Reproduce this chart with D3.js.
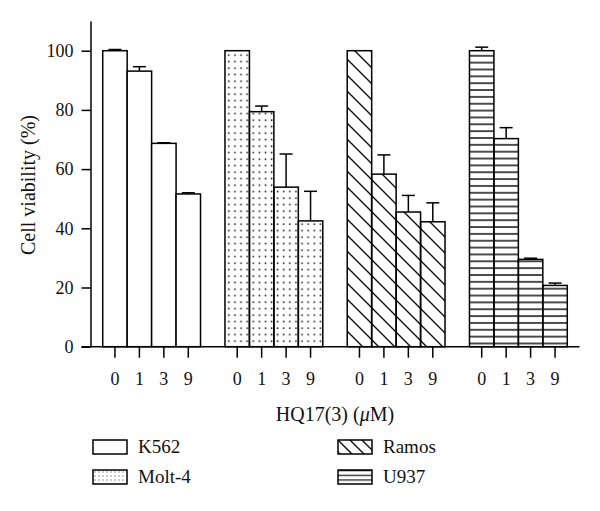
<!DOCTYPE html>
<html>
<head>
<meta charset="utf-8">
<script src="https://cdn.jsdelivr.net/npm/d3@7"></script>
<style>
  html, body { margin: 0; padding: 0; background: #fff; }
  svg { display: block; font-family: "Liberation Serif", "Times New Roman", serif; }
</style>
</head>
<body>
<svg id="chart" width="600" height="511"></svg>
<script>
// ---- data ----
const cellLines = ["K562", "Molt-4", "Ramos", "U937"];
const doses = ["0", "1", "3", "9"];
const k562Mean  = [100, 93.1, 68.7, 51.6];
const k562Err   = [0.4, 1.5, 0.2, 0.4];
const molt4Mean = [100, 79.4, 53.9, 42.5];
const molt4Err  = [0, 1.9, 11.2, 10.0];
const ramosMean = [100, 58.3, 45.5, 42.2];
const ramosErr  = [0, 6.5, 5.6, 6.4];
const u937Mean  = [100, 70.3, 29.5, 20.7];
const u937Err   = [1.2, 3.7, 0.4, 0.8];
const yTicks = [0, 20, 40, 60, 80, 100];
const xTitleParts = ["HQ17(3) (", "\u03bc", "M)"];
const yTitle = "Cell viability (%)";

const means = [k562Mean, molt4Mean, ramosMean, u937Mean];
const errs = [k562Err, molt4Err, ramosErr, u937Err];
const fills = ["#fff", "url(#dots)", "url(#diag)", "url(#hlines)"];
const legendFills = ["#fff", "url(#dotsL)", "url(#diagL)", "url(#hlinesL)"];

const rows = [];
cellLines.forEach((c, gi) => doses.forEach((d, di) => rows.push({cell: c, dose: d, gi, mean: means[gi][di], err: errs[gi][di]})));

const svg = d3.select("#chart");
const defs = svg.append("defs");

// patterns
const pDots = defs.append("pattern").attr("id", "dots").attr("patternUnits", "userSpaceOnUse").attr("width", 6.1).attr("height", 6.5);
pDots.append("rect").attr("x", 2.4).attr("y", 2.4).attr("width", 1.5).attr("height", 1.5).attr("fill", "#000");
const pDiag = defs.append("pattern").attr("id", "diag").attr("patternUnits", "userSpaceOnUse").attr("width", 16).attr("height", 16);
pDiag.append("path").attr("d", "M-4,-4L20,20M-4,12L4,20M12,-4L20,4").attr("stroke", "#111").attr("stroke-width", 1.4);
const pH = defs.append("pattern").attr("id", "hlines").attr("patternUnits", "userSpaceOnUse").attr("width", 10).attr("height", 6.85);
pH.append("line").attr("x1", 0).attr("x2", 10).attr("y1", 1).attr("y2", 1).attr("stroke", "#111").attr("stroke-width", 1.5);

const pDotsL = defs.append("pattern").attr("id", "dotsL").attr("patternUnits", "userSpaceOnUse").attr("width", 4).attr("height", 4);
pDotsL.append("rect").attr("x", 1.5).attr("y", 1.5).attr("width", 1).attr("height", 1).attr("fill", "#333");
const pDiagL = defs.append("pattern").attr("id", "diagL").attr("patternUnits", "userSpaceOnUse").attr("width", 12).attr("height", 12);
pDiagL.append("path").attr("d", "M-3,-3L15,15M-3,9L3,15M9,-3L15,3").attr("stroke", "#111").attr("stroke-width", 1.4);
const pHL = defs.append("pattern").attr("id", "hlinesL").attr("patternUnits", "userSpaceOnUse").attr("width", 10).attr("height", 4.7);
pHL.append("line").attr("x1", 0).attr("x2", 10).attr("y1", 0.5).attr("y2", 0.5).attr("stroke", "#111").attr("stroke-width", 1.4);

// scales
const x0 = 90.5, x1 = 579.5;
const xGroup = d3.scaleBand().domain(cellLines).range([x0, x1]).paddingInner(0.2).paddingOuter(0.1);
const xDose = d3.scaleBand().domain(doses).range([0, xGroup.bandwidth()]).padding(0);
const y = d3.scaleLinear().domain([0, 110]).range([346.7, 21.1]);

// bars
const g = svg.append("g");
g.selectAll("rect.bar").data(rows).join("rect")
  .attr("class", "bar")
  .attr("x", d => xGroup(d.cell) + xDose(d.dose))
  .attr("y", d => y(d.mean))
  .attr("width", xDose.bandwidth())
  .attr("height", d => y(0) - y(d.mean))
  .attr("fill", d => fills[d.gi])
  .attr("stroke", "#000").attr("stroke-width", 1.5);

// error bars (upper only)
const capW = 13;
const eb = g.selectAll("g.err").data(rows.filter(d => d.err > 0)).join("g").attr("class", "err")
  .attr("stroke", "#000").attr("stroke-width", 1.5);
eb.append("line")
  .attr("x1", d => xGroup(d.cell) + xDose(d.dose) + xDose.bandwidth() / 2)
  .attr("x2", d => xGroup(d.cell) + xDose(d.dose) + xDose.bandwidth() / 2)
  .attr("y1", d => y(d.mean)).attr("y2", d => y(d.mean + d.err));
eb.append("line")
  .attr("x1", d => xGroup(d.cell) + xDose(d.dose) + xDose.bandwidth() / 2 - capW / 2)
  .attr("x2", d => xGroup(d.cell) + xDose(d.dose) + xDose.bandwidth() / 2 + capW / 2)
  .attr("y1", d => y(d.mean + d.err)).attr("y2", d => y(d.mean + d.err));

// y axis
const yAxis = svg.append("g").attr("transform", `translate(${x0},0)`)
  .call(d3.axisLeft(y).tickValues(yTicks).tickSize(9).tickSizeOuter(0).tickPadding(8));
yAxis.selectAll("path, line").attr("stroke", "#000").attr("stroke-width", 1.5);
yAxis.selectAll("text").attr("font-size", 18).attr("font-family", "Liberation Serif").attr("fill", "#111");

// x axis baseline
svg.append("line").attr("x1", x0 - 9).attr("x2", x1).attr("y1", y(0)).attr("y2", y(0))
  .attr("stroke", "#000").attr("stroke-width", 1.5);
cellLines.forEach(c => {
  const ax = svg.append("g").attr("transform", `translate(${xGroup(c)},${y(0)})`)
    .call(d3.axisBottom(xDose).tickSize(11).tickSizeOuter(0).tickPadding(15));
  ax.select(".domain").remove();
  ax.selectAll("line").attr("stroke", "#000").attr("stroke-width", 1.5);
  ax.selectAll("text").attr("font-size", 18).attr("font-family", "Liberation Serif").attr("fill", "#111");
});

// titles
const xt = svg.append("text").attr("x", (x0 + x1) / 2).attr("y", 421).attr("text-anchor", "middle")
  .attr("font-size", 20).attr("fill", "#111");
xt.selectAll("tspan").data(xTitleParts).join("tspan")
  .attr("font-style", (d, i) => i === 1 ? "italic" : null).text(d => d);
svg.append("text").attr("transform", "translate(35,185) rotate(-90)").attr("text-anchor", "middle")
  .attr("font-size", 20).attr("fill", "#111").text(yTitle);

// legend
const legendPos = [[93, 440], [93, 470], [338, 440], [338, 470]];
const lg = svg.selectAll("g.legend").data(cellLines).join("g").attr("class", "legend")
  .attr("transform", (d, i) => `translate(${legendPos[i][0]},${legendPos[i][1]})`);
lg.append("rect").attr("width", 34).attr("height", 14)
  .attr("fill", (d, i) => legendFills[i]).attr("stroke", "#000").attr("stroke-width", 1.5);
lg.append("text").attr("x", 45).attr("y", 13).attr("font-size", 19).attr("fill", "#111").text(d => d);
</script>
</body>
</html>
